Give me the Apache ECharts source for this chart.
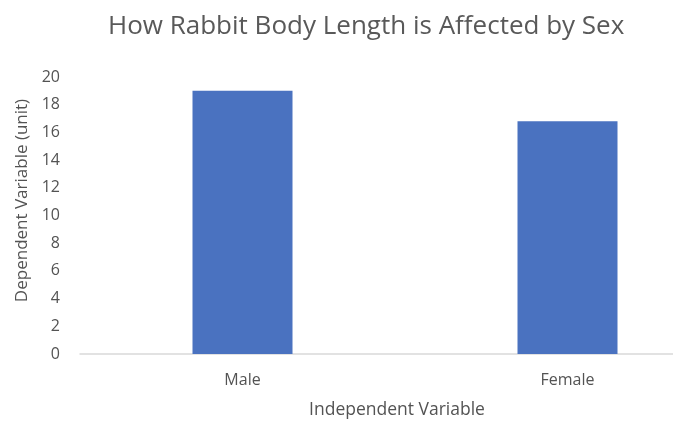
<!DOCTYPE html>
<html>
<head>
<meta charset="utf-8">
<script src="https://cdn.jsdelivr.net/npm/echarts@6/dist/echarts.min.js"></script>
<style>
    html, body { margin: 0; padding: 0; background: #fff; }
    #mychart { width: 673px; height: 423px; }
</style>
</head>
<body>
<div id="mychart"></div>
<script>
var categories = ['Male', 'Female'];
var lengths = [19, 16.8];
var yTicks = [0, 20, 2]; // min, max, step

var textColor = '#535353';
var fontName = 'Open Sans';

var option = {
    animation: false,
    title: {
        text: 'How Rabbit Body Length is Affected by Sex',
        left: 103,
        top: 9,
        textStyle: {
            fontFamily: fontName,
            fontSize: 26,
            fontWeight: 'normal',
            color: '#595959'
        }
    },
    grid: {
        left: 80,
        top: 77,
        width: 650,
        height: 277,
        outerBoundsMode: 'none'
    },
    xAxis: {
        type: 'category',
        data: categories,
        axisLine: { lineStyle: { color: '#d9d9d9', width: 1.5 } },
        axisTick: { show: false },
        axisLabel: {
            margin: 18,
            fontFamily: fontName,
            fontSize: 16,
            color: textColor
        },
        name: 'Independent Variable',
        nameLocation: 'middle',
        nameGap: 47,
        nameTextStyle: {
            fontFamily: fontName,
            fontSize: 17.5,
            color: textColor,
            padding: [0, 16, 0, 0]
        }
    },
    yAxis: {
        type: 'value',
        min: yTicks[0],
        max: yTicks[1],
        interval: yTicks[2],
        axisLine: { show: false },
        axisTick: { show: false },
        splitLine: { show: false },
        axisLabel: {
            margin: 20,
            fontFamily: fontName,
            fontSize: 16,
            color: textColor
        },
        name: 'Dependent Variable (unit)',
        nameLocation: 'middle',
        nameGap: 49,
        nameTextStyle: {
            fontFamily: fontName,
            fontSize: 17,
            color: textColor,
            padding: [0, 0, 0, 30]
        }
    },
    series: [{
        type: 'bar',
        data: lengths,
        barWidth: 100,
        itemStyle: { color: '#4a72c0' }
    }]
};

var mychart = echarts.init(document.getElementById('mychart'));
mychart.setOption(option);
</script>
</body>
</html>
